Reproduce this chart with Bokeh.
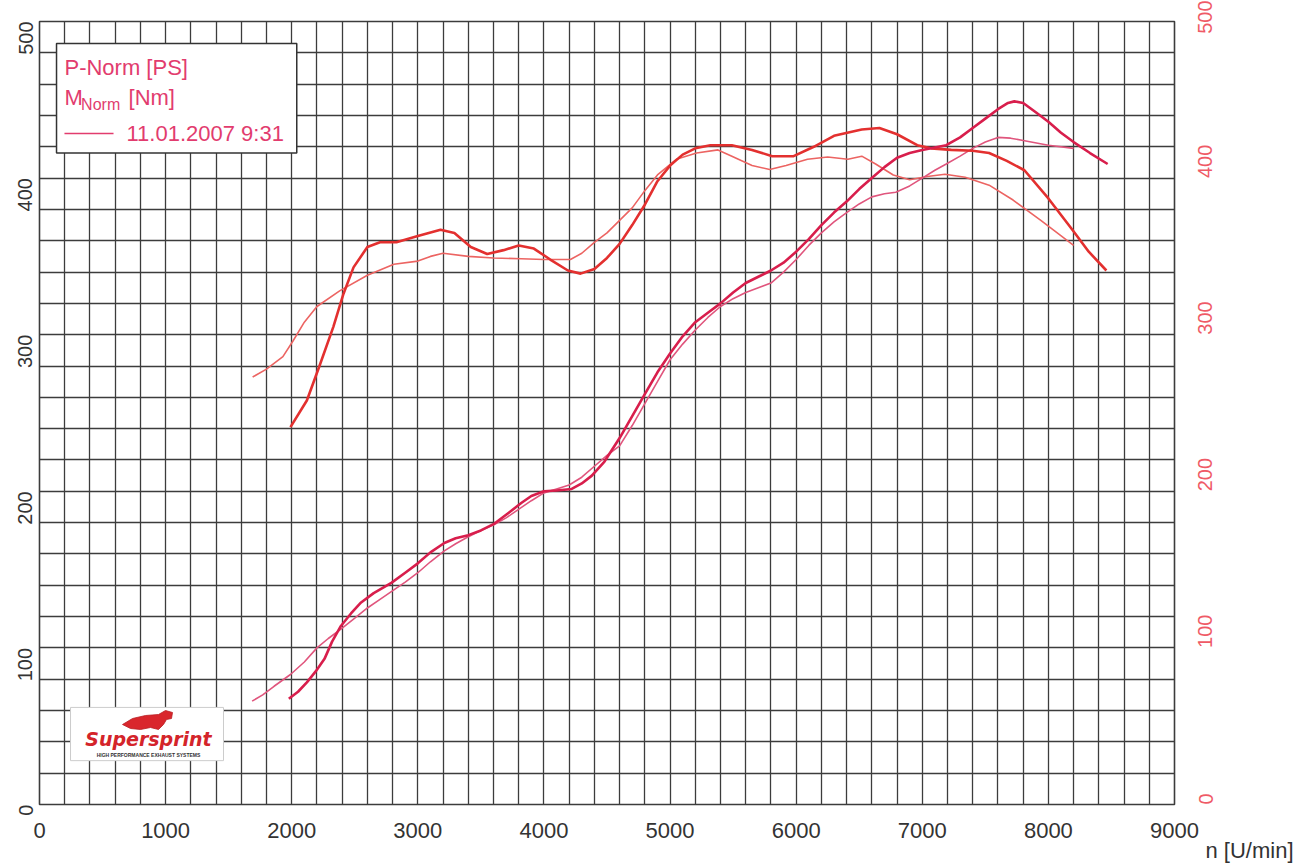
import math
from bokeh.plotting import figure
from bokeh.models import Range1d, LinearAxis, FixedTicker, Title
from bokeh.core.properties import value
from bokeh.embed import file_html
from bokeh.resources import INLINE

# ---------------- data (read from the dyno sheet) ----------------
x_ticks = [0, 1000, 2000, 3000, 4000, 5000, 6000, 7000, 8000, 9000]
y_ticks = [0, 100, 200, 300, 400, 500]

# Torque M_Norm [Nm] - run 1 (thick)
tq1_rpm = [1990, 2120, 2220, 2330, 2410, 2490, 2600, 2700, 2830, 3000, 3180, 3290, 3420,
           3550, 3680, 3800, 3920, 4050, 4190, 4290, 4400, 4500, 4600, 4700, 4800, 4900,
           5000, 5100, 5200, 5320, 5490, 5650, 5810, 5980, 6140, 6300, 6520, 6660, 6800,
           6960, 7070, 7230, 7400, 7530, 7670, 7810, 8000, 8190, 8320, 8460]
tq1_val = [241, 258, 280, 305, 326, 343, 356, 359, 359, 363, 367, 365, 356,
           351.5, 354, 357, 355, 348, 341, 339, 342, 349, 358, 370, 383, 398,
           408, 415, 419, 421, 421, 418, 414, 414, 420, 427, 431, 432, 428,
           421, 419, 418, 417.5, 416, 411, 405, 387, 367, 353, 341]

# Torque M_Norm [Nm] - run 2 (thin)
tq2_rpm = [1690, 1800, 1930, 2010, 2100, 2200, 2380, 2600, 2810, 3000, 3100, 3200, 3400,
           3600, 3820, 4000, 4210, 4300, 4400, 4500, 4600, 4700, 4800, 4900, 5050, 5210,
           5380, 5490, 5650, 5790, 5920, 6090, 6250, 6410, 6520, 6630, 6770, 6900, 7040,
           7180, 7340, 7530, 7720, 7940, 8200]
tq2_val = [273, 278, 286, 296, 308, 318, 328, 338, 345, 347, 350, 352, 350,
           349, 348.5, 348, 348, 352, 359, 365, 373, 381, 392, 402, 412, 416,
           418, 414, 408, 405.5, 408, 412, 413.5, 412, 414, 409, 402, 399, 401,
           402.5, 400.5, 395.5, 386, 373, 357]

# Power P-Norm [PS] - run 1 (thick)
pw1_rpm = [1977, 2050, 2120, 2190, 2260, 2320, 2390, 2470, 2550, 2650, 2790, 2900, 3000,
           3100, 3210, 3300, 3400, 3500, 3600, 3700, 3820, 3900, 4000, 4100, 4220, 4300,
           4380, 4480, 4600, 4700, 4800, 4900, 5000, 5100, 5200, 5300, 5400, 5500, 5600,
           5700, 5800, 5900, 6000, 6100, 6200, 6300, 6400, 6500, 6600, 6700, 6800, 6900,
           7000, 7100, 7190, 7300, 7400, 7500, 7600, 7680, 7730, 7800, 7900, 8000, 8100,
           8200, 8330, 8470]
pw1_val = [67.5, 72, 78, 85, 93, 104, 114, 122, 129, 135, 141.5, 148, 154,
           161, 167, 170, 172, 175, 179, 185, 192.5, 197, 200, 200.5, 201.5, 205,
           210, 219, 234, 248, 262, 276, 288, 299, 308, 314, 320, 327, 333,
           337, 341, 346, 353, 361, 370, 378, 385, 393, 400, 407, 413, 416,
           418, 419.5, 421, 426, 432, 438, 444, 448, 449, 448, 442, 436, 429,
           423, 416, 409]

# Power P-Norm [PS] - run 2 (thin)
pw2_rpm = [1686, 1770, 1860, 1990, 2100, 2200, 2290, 2390, 2500, 2600, 2700, 2810, 2900,
           3000, 3100, 3210, 3300, 3400, 3500, 3610, 3700, 3790, 3900, 4000, 4100, 4200,
           4300, 4400, 4500, 4600, 4700, 4800, 4900, 5000, 5100, 5200, 5300, 5400, 5500,
           5600, 5700, 5800, 5900, 6000, 6100, 6200, 6300, 6400, 6500, 6600, 6700, 6790,
           6900, 7000, 7100, 7190, 7300, 7400, 7500, 7600, 7700, 7800, 8000, 8200]
pw2_val = [66, 70, 75.5, 83, 91, 100, 106, 112, 119, 125.5, 131, 137, 142,
           148, 155, 162, 166.5, 171, 175, 179, 183, 188, 194, 199, 201.5, 204,
           209, 216, 223, 229, 242, 256, 270, 284, 294, 303, 311, 318, 323,
           327, 330, 333, 340, 348, 357, 365, 372, 378, 383.5, 388, 390, 391,
           395, 400, 405, 409, 414, 419, 423, 426, 425.5, 424, 421, 419]

legend_lines = ["P-Norm [PS]", "M", "Norm", "[Nm]", "11.01.2007 9:31"]
x_title = "n [U/min]"

# ---------------- styling ----------------
GRID = "#3c3c3c"
TQ_THICK = "#e3302f"
TQ_THIN = "#ec6462"
PW_THICK = "#d81e4c"
PW_THIN = "#e0557d"
LEG = "#e23c6e"
FONT = "Liberation Sans"

p = figure(width=1300, height=863, output_backend="svg", toolbar_location=None,
           x_range=Range1d(0, 9000), y_range=Range1d(0, 500),
           min_border_left=39, min_border_right=126, min_border_top=21,
           min_border_bottom=59, background_fill_color="white",
           border_fill_color="white")
p.outline_line_color = GRID
p.outline_line_width = 1.6

# grid
p.xgrid.ticker = FixedTicker(ticks=list(range(0, 9001, 200)))
p.ygrid.ticker = FixedTicker(ticks=list(range(0, 501, 20)))
for g in (p.xgrid[0], p.ygrid[0]):
    g.grid_line_color = GRID
    g.grid_line_width = 1.3
    g.grid_line_alpha = 1.0

# bottom axis
xa = p.xaxis[0]
xa.ticker = FixedTicker(ticks=x_ticks)
xa.axis_line_color = None
xa.major_tick_line_color = None
xa.minor_tick_line_color = None
xa.major_label_text_font = FONT
xa.major_label_text_font_size = "22px"
xa.major_label_text_color = "#333333"
xa.major_label_standoff = 12

# x axis title, right of the frame below the tick labels
p.add_layout(Title(text=x_title, align="right", offset=-119, standoff=-10,
                   text_font=FONT, text_font_size="22px", text_font_style="normal",
                   text_color="#333333"), "below")

# left axis
ya = p.yaxis[0]
ya.ticker = FixedTicker(ticks=y_ticks)
ya.axis_line_color = None
ya.major_tick_line_color = None
ya.minor_tick_line_color = None
ya.major_label_text_font = FONT
ya.major_label_text_font_size = "20px"
ya.major_label_text_color = "#333333"
ya.major_label_orientation = math.pi / 2
ya.major_label_standoff = 8

# right axis (red)
p.extra_y_ranges = {"right": Range1d(0, 500)}
ra = LinearAxis(y_range_name="right", ticker=FixedTicker(ticks=y_ticks))
ra.axis_line_color = None
ra.major_tick_line_color = None
ra.minor_tick_line_color = None
ra.major_label_text_font = FONT
ra.major_label_text_font_size = "20px"
ra.major_label_text_color = "#ef5a66"
ra.major_label_orientation = math.pi / 2
ra.major_label_standoff = 25
p.add_layout(ra, "right")

# curves
p.line(tq2_rpm, tq2_val, line_color=TQ_THIN, line_width=1.6)
p.line(pw2_rpm, pw2_val, line_color=PW_THIN, line_width=1.6)
p.line(tq1_rpm, tq1_val, line_color=TQ_THICK, line_width=2.6, line_join="round")
p.line(pw1_rpm, pw1_val, line_color=PW_THICK, line_width=2.6, line_join="round")

# legend box
p.quad(left=135, right=2040, bottom=416, top=486, fill_color="white",
       line_color="#333333", line_width=1.5)
p.text(x=[198], y=[470.6], text=[legend_lines[0]], text_color=LEG,
       text_font=value(FONT), text_font_size="22px", text_baseline="middle")
p.text(x=[198], y=[451.5], text=[legend_lines[1]], text_color=LEG,
       text_font=value(FONT), text_font_size="22px", text_baseline="middle")
p.text(x=[330], y=[447.2], text=[legend_lines[2]], text_color=LEG,
       text_font=value(FONT), text_font_size="16px", text_baseline="middle")
p.text(x=[706], y=[451.5], text=[legend_lines[3]], text_color=LEG,
       text_font=value(FONT), text_font_size="22px", text_baseline="middle")
p.line([198, 587], [428.5, 428.5], line_color=LEG, line_width=1.5)
p.text(x=[690], y=[428.5], text=[legend_lines[4]], text_color=LEG,
       text_font=value(FONT), text_font_size="22px", text_baseline="middle")

# Supersprint logo
p.quad(left=246, right=1459, bottom=28, top=62, fill_color="white",
       line_color="#cccccc", line_width=1)
horse_px = [(122, 724), (132, 718), (145, 715), (158, 714), (165, 710), (172, 712),
            (171, 718), (166, 719), (163, 724), (158, 729), (150, 727), (140, 729), (130, 728)]
p.patch([(a - 39) / 0.1261 for a, b in horse_px], [(804 - b) / 1.566 for a, b in horse_px],
        fill_color="#d9262c", line_color="#b81d22", line_width=0.8)
p.text(x=[864], y=[42], text=["Supersprint"], text_color="#d4242a",
       text_font=value("DejaVu Sans"), text_font_style="bold italic",
       text_font_size="19px", text_align="center", text_baseline="middle")
p.text(x=[864], y=[31.3], text=["HIGH PERFORMANCE EXHAUST SYSTEMS"], text_color="#333333",
       text_font=value(FONT), text_font_style="bold", text_font_size="5px",
       text_align="center", text_baseline="middle")

open("out.html", "w").write(file_html(p, INLINE))
